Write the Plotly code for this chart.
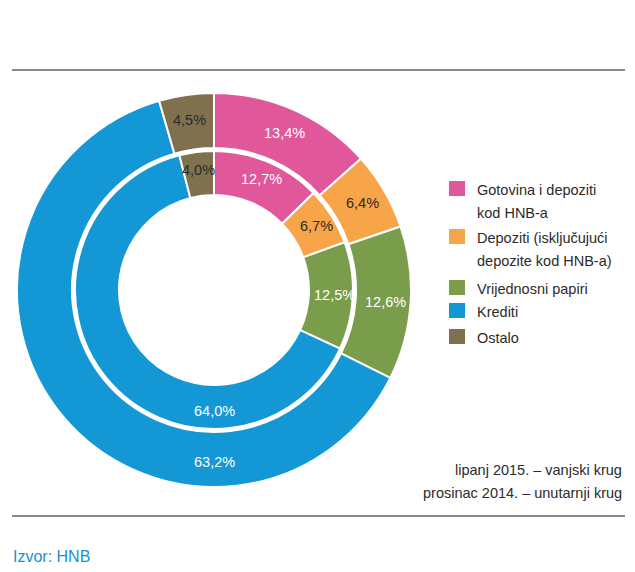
import math
import plotly.graph_objects as go

categories = ["Gotovina i depoziti kod HNB-a", "Depoziti (isključujući depozite kod HNB-a)",
              "Vrijednosni papiri", "Krediti", "Ostalo"]
legend_lines = [["Gotovina i depoziti", "kod HNB-a"], ["Depoziti (isključujući", "depozite kod HNB-a)"],
                ["Vrijednosni papiri"], ["Krediti"], ["Ostalo"]]
outer_jun2015 = [13.4, 6.4, 12.6, 63.2, 4.5]
inner_dec2014 = [12.7, 6.7, 12.5, 64.0, 4.0]
colors = ["#E0589A", "#F7A548", "#7A9D4B", "#1497D5", "#7F714D"]
text_colors = ["white", "#2b2b2b", "white", "white", "#2b2b2b"]

W, H = 635, 572
FONT = "Liberation Sans Narrow, Arial Narrow, Liberation Sans, sans-serif"
FS = 14.5

def fmt(v):
    return f"{v:.1f}".replace(".", ",") + "%"

cx, cy = 214, 290
R_OUT, H_OUT = 197, 142
R_IN, H_IN = 139, 95

def dom(r):
    return dict(x=[(cx - r) / W, (cx + r) / W], y=[1 - (cy + r) / H, 1 - (cy - r) / H])

fig = go.Figure()
annotations = []
# label placement: slice middle, except the large 'Krediti' slice whose label sits at the bottom
bottom_label_index = 3
for vals, r, hole_r, lr in [(outer_jun2015, R_OUT, H_OUT, 172), (inner_dec2014, R_IN, H_IN, 121)]:
    fig.add_trace(go.Pie(
        labels=categories, values=vals, textinfo="none",
        sort=False, direction="clockwise", rotation=0, hole=hole_r / r,
        domain=dom(r), marker=dict(colors=colors, line=dict(color="white", width=2)),
        showlegend=False, hovertext=[fmt(v) for v in vals], hoverinfo="label+text",
    ))
    total = sum(vals)
    cum = 0
    for i, v in enumerate(vals):
        mid = (cum + v / 2) / total * 2 * math.pi
        cum += v
        if i == bottom_label_index:
            mid = math.pi
        px = cx + lr * math.sin(mid)
        py = cy - lr * math.cos(mid)
        annotations.append(dict(text=fmt(v), xref="paper", yref="paper", x=px / W, y=1 - py / H,
                                xanchor="center", yanchor="middle", showarrow=False,
                                font=dict(family=FONT, size=FS, color=text_colors[i])))

shapes = [
    dict(type="line", xref="paper", yref="paper", x0=12 / W, x1=625 / W, y0=1 - 70 / H, y1=1 - 70 / H,
         line=dict(color="#8a8a8a", width=2)),
    dict(type="line", xref="paper", yref="paper", x0=12 / W, x1=625 / W, y0=1 - 516 / H, y1=1 - 516 / H,
         line=dict(color="#8a8a8a", width=2)),
]
sq_tops = [181, 229, 280, 303, 329]
for i, lines in enumerate(legend_lines):
    t = sq_tops[i]
    shapes.append(dict(type="rect", xref="paper", yref="paper",
                       x0=449 / W, x1=465 / W, y0=1 - (t + 15) / H, y1=1 - t / H,
                       fillcolor=colors[i], line=dict(width=0)))
    for j, ln in enumerate(lines):
        annotations.append(dict(text=ln, xref="paper", yref="paper", x=475 / W, y=1 - (t + 9 + 23 * j) / H,
                                xanchor="left", yanchor="middle", showarrow=False,
                                font=dict(family=FONT, size=FS, color="#2b2b2b")))

for k, ln in enumerate(["lipanj 2015. – vanjski krug", "prosinac 2014. – unutarnji krug"]):
    annotations.append(dict(text=ln, xref="paper", yref="paper", x=624 / W, y=1 - (470 + 23 * k) / H,
                            xanchor="right", yanchor="middle", showarrow=False,
                            font=dict(family=FONT, size=FS, color="#2b2b2b")))
annotations.append(dict(text="Izvor: HNB", xref="paper", yref="paper", x=11 / W, y=1 - 556 / H,
                        xanchor="left", yanchor="middle", showarrow=False,
                        font=dict(family="Liberation Sans, Arial, sans-serif", size=16, color="#1a8fd0")))

fig.update_layout(
    width=W, height=H, margin=dict(l=0, r=0, t=0, b=0),
    paper_bgcolor="white", plot_bgcolor="white",
    shapes=shapes, annotations=annotations,
)
fig.write_html("out.html", config={"displayModeBar": False})

with open("out.html", encoding="utf-8") as f:
    html = f.read()
html = html.replace("<head>", "<head><style>html,body{margin:0;padding:0;overflow:hidden;}</style>", 1)
with open("out.html", "w", encoding="utf-8") as f:
    f.write(html)
